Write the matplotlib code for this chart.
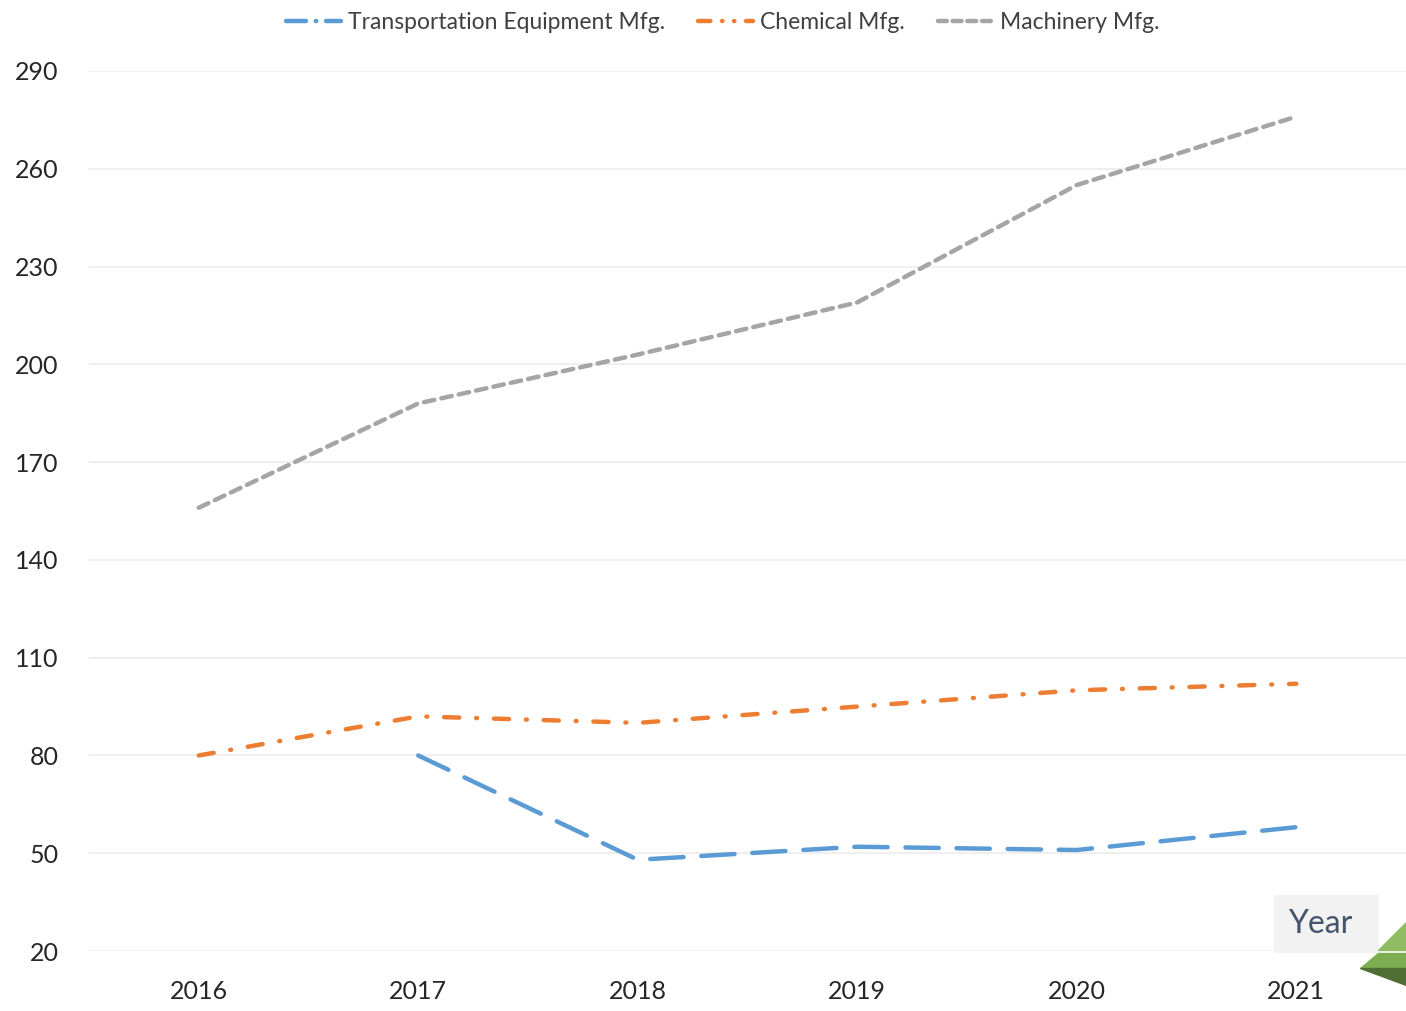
import numpy as np
import matplotlib
matplotlib.use("Agg")
import matplotlib.pyplot as plt
from matplotlib.lines import Line2D
from matplotlib.patches import Polygon, Rectangle

# data
years = ["2016", "2017", "2018", "2019", "2020", "2021"]
transport = [np.nan, 80, 48, 52, 51, 58]
chemical = [80, 92, 90, 95, 100, 102]
machinery = [156, 188, 203, 219, 255, 276]
yticks = [20, 50, 80, 110, 140, 170, 200, 230, 260, 290]

plt.rcParams['font.family'] = ['Lato', 'DejaVu Sans']

fig = plt.figure(figsize=(14.06, 10.11), dpi=100)
ax = fig.add_axes([0.0633, 0.0593, 0.9367, 0.8705])

x = np.arange(len(years))
lw = 3.2
ax.plot(x, transport, color="#5b9bd5", lw=lw, dashes=(7.5, 4), dash_capstyle="round",
        solid_capstyle="round", label="Transportation Equipment Mfg.")
ax.plot(x, chemical, color="#ed7d31", lw=lw, dashes=(3.4, 3.8, 0.2, 3.8), dash_capstyle="round",
        label="Chemical Mfg.")
ax.plot(x, machinery, color="#a5a5a5", lw=lw, dashes=(2.4, 1.6), dash_capstyle="round",
        label="Machinery Mfg.")

ax.set_xlim(-0.5, len(years) - 0.5)
ax.set_ylim(20, 290)
ax.set_yticks(yticks)
ax.set_xticks(x)
ax.set_xticklabels(years)
ax.grid(axis="y", color="#ececec", lw=1.2)
ax.set_axisbelow(True)
for s in ax.spines.values():
    s.set_visible(False)
ax.tick_params(length=0, labelsize=18, colors="#262626")
ax.tick_params(axis="y", pad=22)
ax.tick_params(axis="x", pad=21)

# legend on top
handles = [
    Line2D([], [], color="#5b9bd5", lw=lw, dashes=(4.5, 2.2, 0.1, 2.2), dash_capstyle="round"),
    Line2D([], [], color="#ed7d31", lw=lw, dashes=(2.8, 2.6, 0.1, 2.6, 0.1, 2.6), dash_capstyle="round"),
    Line2D([], [], color="#a5a5a5", lw=lw, dashes=(2.0, 1.3), dash_capstyle="round"),
]
fig.legend(handles, ["Transportation Equipment Mfg.", "Chemical Mfg.", "Machinery Mfg."],
           loc="center", bbox_to_anchor=(0.514, 0.978), ncol=3, frameon=False,
           fontsize=16.5, handlelength=2.4, handletextpad=0.3, columnspacing=1.45,
           labelcolor="#404040")

# "Year" box and green decoration in the corner
W, H = 1406, 1011
def fpt(px, py):
    return (px / W, 1 - py / H)
fig.patches.append(Rectangle(fpt(1274, 952), 104 / W, 57 / H,
                             transform=fig.transFigure, color="#f2f2f2", zorder=5))
fig.text(1320 / W, 1 - 924 / H, "Year", ha="center", va="center",
         fontsize=23, color="#44546a", zorder=6)
fig.patches.append(Polygon([fpt(1406, 922), fpt(1406, 950), fpt(1378, 950)],
                           transform=fig.transFigure, color="#8fbc62", zorder=5))
fig.patches.append(Polygon([fpt(1378, 953), fpt(1406, 953), fpt(1406, 968), fpt(1360, 968)],
                           transform=fig.transFigure, color="#7fae52", zorder=5))
fig.patches.append(Polygon([fpt(1360, 968), fpt(1406, 968), fpt(1406, 985)],
                           transform=fig.transFigure, color="#4f6e33", zorder=5))

fig.savefig("out.png", dpi=100)
